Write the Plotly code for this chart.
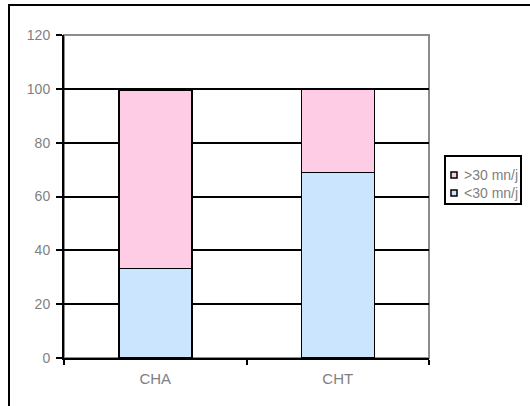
import plotly.graph_objects as go

# Data
categories = ["CHA", "CHT"]
under_30 = [33.3, 69]     # "<30 mn/j"
over_30 = [66, 31]        # ">30 mn/j"
series_names = ["<30 mn/j", ">30 mn/j"]
series_colors = ["#CCE5FF", "#FFCCE6"]
y_ticks = [0, 20, 40, 60, 80, 100, 120]

W, H = 530, 406
L, R, T, B = 64, 101, 35, 48
plot_w = W - L - R
plot_h = H - T - B
FONT = "Liberation Sans, Arial"
GREY = "#7f7f7f"


def px_x(x):
    return (x - L) / plot_w


def px_y(y):
    return (H - B - y) / plot_h


fig = go.Figure()
for name, vals, color in zip(series_names, [under_30, over_30], series_colors):
    fig.add_trace(go.Bar(
        x=categories, y=vals, name=name,
        marker=dict(color=color, line=dict(color="black", width=1.5)),
        width=0.4, showlegend=False,
    ))

shapes = [
    # outer chart frame
    dict(type="rect", xref="paper", yref="paper",
         x0=px_x(9), x1=px_x(560), y0=px_y(440), y1=px_y(5),
         line=dict(color="black", width=2), layer="below"),
    # plot area frame (top/right)
    dict(type="rect", xref="paper", yref="paper",
         x0=0, x1=1, y0=0, y1=1,
         line=dict(color="#8c8c8c", width=2), layer="below"),
    # legend box
    dict(type="rect", xref="paper", yref="paper",
         x0=px_x(445), x1=px_x(521), y0=px_y(204), y1=px_y(156),
         line=dict(color="black", width=2), fillcolor="white"),
]
annotations = []
legend_rows = [(175, series_names[1], series_colors[1]),
               (193, series_names[0], series_colors[0])]
for yc, name, color in legend_rows:
    shapes.append(dict(type="rect", xref="paper", yref="paper",
                       x0=px_x(451), x1=px_x(457),
                       y0=px_y(yc + 3), y1=px_y(yc - 3),
                       line=dict(color="black", width=1.5), fillcolor=color))
    annotations.append(dict(xref="paper", yref="paper",
                            x=px_x(462), y=px_y(yc), text=name,
                            showarrow=False, xanchor="left", yanchor="middle",
                            font=dict(family=FONT, size=14, color=GREY)))

fig.update_layout(
    width=W, height=H,
    margin=dict(l=L, r=R, t=T, b=B, pad=0),
    barmode="stack",
    paper_bgcolor="white", plot_bgcolor="white",
    font=dict(family=FONT, size=14, color=GREY),
    shapes=shapes, annotations=annotations,
    xaxis=dict(
        showline=True, linecolor="black", linewidth=2,
        ticks="outside", tickson="boundaries", ticklen=5,
        tickcolor="black", tickwidth=2, ticklabelstandoff=6,
        showgrid=False, tickfont=dict(family=FONT, size=15, color=GREY),
    ),
    yaxis=dict(
        range=[0, 120], tickvals=y_ticks,
        showline=True, linecolor="black", linewidth=2,
        ticks="outside", ticklen=6, tickcolor="black", tickwidth=2,
        ticklabelstandoff=3,
        showgrid=True, gridcolor="black", gridwidth=1.5,
        zeroline=False, tickfont=dict(family=FONT, size=14, color=GREY),
    ),
)

fig.write_html("out.html")
